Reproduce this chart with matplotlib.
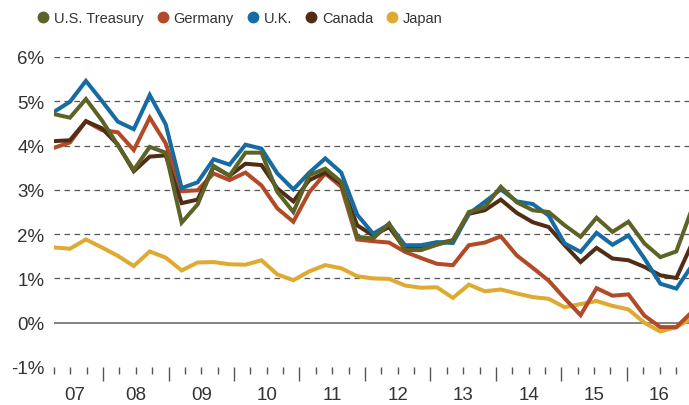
import numpy as np
import matplotlib
matplotlib.use("Agg")
import matplotlib.pyplot as plt
from matplotlib.lines import Line2D

# Quarterly 10-year yields (%), first reading in Q2 2007
us_treasury = [4.71, 4.63, 5.05, 4.57, 4.01, 3.45, 3.97, 3.84, 2.26, 2.67,
               3.54, 3.32, 3.84, 3.84, 2.95, 2.50, 3.33, 3.48, 3.18, 1.94,
               1.90, 2.24, 1.64, 1.64, 1.76, 1.86, 2.50, 2.61, 3.07, 2.72,
               2.54, 2.50, 2.20, 1.94, 2.37, 2.05, 2.28, 1.79, 1.48, 1.61,
               2.59]
germany = [3.95, 4.07, 4.55, 4.35, 4.30, 3.90, 4.63, 4.05, 2.97, 2.99,
           3.37, 3.22, 3.39, 3.10, 2.58, 2.28, 2.95, 3.37, 3.07, 1.88,
           1.84, 1.81, 1.60, 1.46, 1.33, 1.30, 1.75, 1.81, 1.95, 1.52,
           1.24, 0.95, 0.55, 0.17, 0.78, 0.61, 0.64, 0.16, -0.10, -0.10,
           0.25]
uk = [4.76, 4.99, 5.46, 5.01, 4.54, 4.37, 5.14, 4.48, 3.04, 3.17,
      3.69, 3.57, 4.02, 3.93, 3.37, 3.01, 3.39, 3.71, 3.39, 2.44,
      2.01, 2.22, 1.75, 1.75, 1.82, 1.80, 2.46, 2.73, 3.01, 2.74,
      2.68, 2.42, 1.79, 1.60, 2.03, 1.76, 1.97, 1.45, 0.88, 0.77,
      1.30]
canada = [4.10, 4.12, 4.55, 4.39, 4.02, 3.42, 3.75, 3.78, 2.70, 2.78,
          3.52, 3.32, 3.59, 3.56, 3.03, 2.74, 3.22, 3.39, 3.14, 2.20,
          1.97, 2.16, 1.67, 1.67, 1.79, 1.86, 2.46, 2.54, 2.78, 2.48,
          2.27, 2.16, 1.75, 1.37, 1.69, 1.45, 1.41, 1.26, 1.07, 1.01,
          1.80]
japan = [1.70, 1.67, 1.88, 1.70, 1.51, 1.28, 1.61, 1.47, 1.18, 1.36,
         1.37, 1.32, 1.31, 1.41, 1.09, 0.96, 1.16, 1.30, 1.23, 1.05,
         1.00, 0.99, 0.84, 0.79, 0.80, 0.56, 0.86, 0.71, 0.75, 0.66,
         0.58, 0.54, 0.35, 0.42, 0.49, 0.38, 0.30, 0.00, -0.20, -0.10,
         0.10]

series_names = ["U.S. Treasury", "Germany", "U.K.", "Canada", "Japan"]
series_colors = ["#5d6226", "#b24a28", "#166ca2", "#522d16", "#deaa32"]
year_labels = ["07", "08", "09", "10", "11", "12", "13", "14", "15", "16"]
y_ticks = [-1, 0, 1, 2, 3, 4, 5, 6]

plt.rcParams["font.family"] = ["Liberation Sans", "DejaVu Sans"]
TEXT = "#333333"


def main():
    fig = plt.figure(figsize=(6.89, 4.06), dpi=100)
    ax = fig.add_axes([54 / 689, 38 / 406, 635 / 689, 310 / 406])

    x = np.linspace(2007.25, 2017.0, len(japan))
    data = dict(zip(series_names, [us_treasury, germany, uk, canada, japan]))
    colors = dict(zip(series_names, series_colors))

    # grid first, then lines on top
    for v in y_ticks[2:]:
        ax.axhline(v, color="#555555", lw=0.9, dashes=(4.5, 3.5), zorder=1)
    ax.axhline(0, color="#6e6e6e", lw=1.2, zorder=1)

    draw_order = ["Japan", "Germany", "Canada", "U.K.", "U.S. Treasury"]
    for k, name in enumerate(draw_order):
        ax.plot(x, data[name], color=colors[name], lw=2.9,
                solid_joinstyle="miter", zorder=2 + k)

    ax.set_xlim(2007.25, 2016.95)
    ax.set_ylim(-1, 6)
    for s in ax.spines.values():
        s.set_visible(False)

    ax.set_yticks(y_ticks)
    ax.set_yticklabels([f"{v}%" for v in y_ticks], fontsize=13.5, color=TEXT)
    ax.tick_params(axis="y", length=0, pad=7)

    # year boundaries long, quarters short
    ax.set_xticks(np.arange(2008, 2017))
    ax.set_xticklabels([])
    ax.set_xticks(np.arange(2007.25, 2017, 0.25), minor=True)
    ax.tick_params(axis="x", which="major", length=10, width=1.0,
                   color="#555555", pad=0)
    ax.tick_params(axis="x", which="minor", length=5, width=1.0,
                   color="#555555")

    label_pos = [2007.57] + [2008.5 + i for i in range(len(year_labels) - 1)]
    for pos, lab in zip(label_pos, year_labels):
        ax.text(pos, -1.63, lab, ha="center", va="center", fontsize=13.5,
                color=TEXT, clip_on=False)

    handles = [Line2D([], [], ls="none", marker="o", ms=7.5,
                      color=colors[n]) for n in series_names]
    leg = fig.legend(handles, series_names, loc="upper left",
                     bbox_to_anchor=(38 / 689, 1 - 12 / 406), ncol=5,
                     frameon=False, fontsize=10.5, handlelength=0.7,
                     handletextpad=0.4, columnspacing=0.95, borderpad=0,
                     borderaxespad=0)
    for t in leg.get_texts():
        t.set_color(TEXT)

    fig.savefig("out.png", dpi=100)


if __name__ == "__main__":
    main()
